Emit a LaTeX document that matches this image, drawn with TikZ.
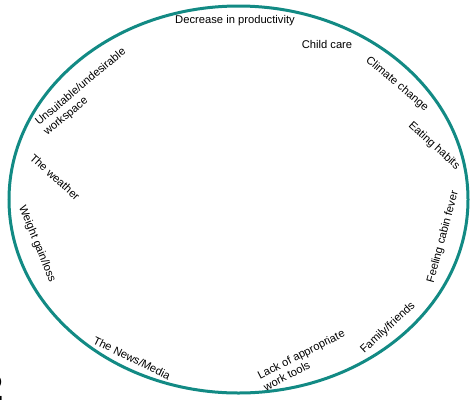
\documentclass[tikz,border=0pt]{standalone}
\usepackage{fontspec}
\usetikzlibrary{shapes.geometric}
\setmainfont{Liberation Sans}
\definecolor{ringteal}{HTML}{128A84}
\begin{document}
\begin{tikzpicture}[x=1pt,y=-1pt,
  lbl/.style={inner sep=0pt,font=\fontsize{11.2}{13}\selectfont,align=left},
  ring/.style={draw=ringteal,line width=3pt}]
\useasboundingbox (0,0) rectangle (470,400);
\begin{scope}
\clip (0,0) rectangle (470,400);
\node[font=\fontsize{36}{36}\selectfont\bfseries,anchor=east,inner sep=0pt] (num) at (3.5,388) {2};
\end{scope}
\node[ring,ellipse,minimum width=459pt,minimum height=387pt,inner sep=0pt] (ring) at (238.5,199.5) {};
\node[lbl] (l1) at (235,21) {Decrease in productivity};
\node[lbl] (l2) at (327,44) {Child care};
\node[lbl,rotate=-40] (l3) at (397,84) {Climate change};
\node[lbl,rotate=-42] (l4) at (434,146) {Eating habits};
\node[lbl,rotate=75] (l5) at (443,237) {Feeling cabin fever};
\node[lbl,rotate=43] (l6) at (388,328) {Family/friends};
\node[lbl,rotate=27] (l7) at (304,360) {Lack of appropriate\\work tools};
\node[lbl,rotate=-26] (l8) at (132,358) {The News/Media};
\node[lbl,rotate=-68] (l9) at (37,244) {Weight gain/loss};
\node[lbl,rotate=-42] (l10) at (55,177) {The weather};
\node[lbl,rotate=40] (l11) at (85,92) {Unsuitable/undesirable\\workspace};
\end{tikzpicture}
\end{document}
